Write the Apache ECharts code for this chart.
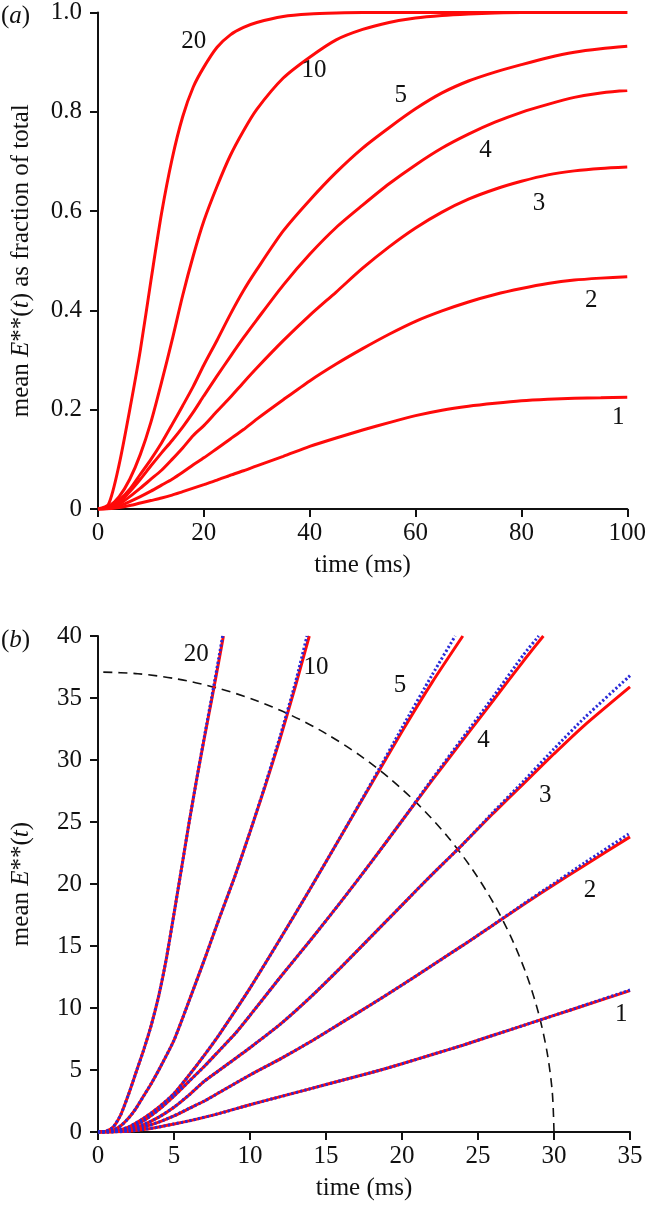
<!DOCTYPE html>
<html><head><meta charset="utf-8">
<script src="https://cdn.jsdelivr.net/npm/echarts@6/dist/echarts.min.js"></script>
<style>html,body{margin:0;padding:0;background:#fff}#c{width:649px;height:1210px}</style>
</head><body><div id="c"></div>
<script>
// ---------- panel (a): mean E**(t) as fraction of total, 0-100 ms ----------
const tTop = [0,2,4,6,8,10,12,14,16,18,20,22.5,25,27.5,30,35,40,45,50,55,60,65,70,75,80,85,90,95,100];
const frac20 = [0,0.01,0.09,0.2,0.32,0.46,0.595,0.705,0.79,0.85,0.89,0.93,0.955,0.97,0.98,0.992,0.997,0.999,1,1,1,1,1,1,1,1,1,1,1];
const frac10 = [0,0.005,0.025,0.06,0.11,0.175,0.255,0.34,0.43,0.51,0.58,0.65,0.712,0.762,0.805,0.868,0.91,0.945,0.966,0.98,0.989,0.994,0.997,0.999,1,1,1,1,1];
const frac5  = [0,0.003,0.018,0.04,0.07,0.1,0.133,0.17,0.208,0.247,0.29,0.34,0.392,0.44,0.482,0.56,0.622,0.678,0.727,0.768,0.806,0.838,0.862,0.88,0.895,0.909,0.92,0.927,0.932];
const frac4  = [0,0.002,0.013,0.035,0.06,0.087,0.113,0.138,0.165,0.195,0.228,0.268,0.307,0.345,0.381,0.451,0.513,0.567,0.612,0.655,0.693,0.727,0.755,0.779,0.799,0.815,0.829,0.838,0.843];
const frac3  = [0,0.002,0.01,0.025,0.042,0.06,0.078,0.1,0.123,0.148,0.168,0.197,0.225,0.255,0.284,0.339,0.39,0.437,0.485,0.528,0.566,0.598,0.624,0.644,0.66,0.673,0.681,0.686,0.689];
const frac2  = [0,0.001,0.006,0.015,0.025,0.036,0.048,0.06,0.074,0.089,0.103,0.122,0.141,0.16,0.181,0.22,0.258,0.292,0.323,0.352,0.378,0.399,0.417,0.432,0.444,0.454,0.461,0.465,0.468];
const frac1  = [0,0.0005,0.003,0.007,0.012,0.017,0.022,0.028,0.035,0.042,0.049,0.058,0.068,0.077,0.087,0.106,0.126,0.143,0.159,0.174,0.188,0.199,0.207,0.213,0.218,0.221,0.223,0.224,0.225];
const topCurveNames = ['20','10','5','4','3','2','1'];
const topLabels = [[18.2,0.94,'20'],[40.9,0.883,'10'],[57.3,0.831,'5'],[73.3,0.722,'4'],[83.4,0.614,'3'],[93.3,0.42,'2'],[98.4,0.1825,'1']];

// ---------- panel (b): mean E**(t), 0-35 ms (red = simulation, blue dotted = theory) ----------
const sim20 = [[0,0],[0.5,0.05],[1,0.4],[1.5,1.4],[2,3.0],[2.5,4.8],[3,6.6],[3.5,8.6],[4,11.0],[4.5,14.0],[5,17.6],[5.5,21.3],[6,25.0],[6.5,28.5],[7,31.8],[7.5,35.0],[8,38.3],[8.25,40]];
const theory20 = [[0,0],[0.5,0.05],[1,0.4],[1.5,1.4],[2,3.0],[2.5,4.8],[3,6.6],[3.5,8.6],[4,11.0],[4.5,14.0],[5,17.6],[5.5,21.3],[6,25.0],[6.5,28.5],[7,31.9],[7.5,35.2],[8,38.6],[8.2,40]];
const sim10 = [[0,0],[0.5,0.02],[1,0.15],[1.5,0.5],[2,1.1],[2.5,1.9],[3,2.9],[3.5,3.9],[4,5.0],[5,7.4],[6,10.6],[7,13.9],[8,17.3],[9,20.6],[10,24.2],[11,27.9],[12,31.8],[13,36.0],[13.9,40]];
const theory10 = [[0,0],[0.5,0.02],[1,0.15],[1.5,0.5],[2,1.1],[2.5,1.9],[3,2.9],[3.5,3.9],[4,5.0],[5,7.4],[6,10.6],[7,13.9],[8,17.3],[9,20.6],[10,24.2],[11,28.0],[12,32.0],[13,36.3],[13.75,40]];
const sim5 = [[0,0],[1,0.05],[2,0.4],[3,1.1],[4,2.0],[5,3.1],[6,4.6],[7,6.2],[8,7.9],[10,11.6],[12,15.6],[14,19.7],[16,23.9],[18,28.1],[20,32.3],[22,36.3],[24,40]];
const theory5 = [[0,0],[1,0.05],[2,0.4],[3,1.1],[4,2.0],[5,3.1],[6,4.6],[7,6.2],[8,7.9],[10,11.6],[12,15.6],[14,19.7],[16,23.9],[18,28.2],[20,32.6],[22,36.9],[23.5,40]];
const sim4 = [[0,0],[1,0.03],[2,0.3],[3,0.9],[4,1.8],[5,2.9],[6,4.1],[7,5.3],[8,6.6],[9,7.9],[10,9.4],[12,12.5],[14,15.5],[16,18.6],[18,21.8],[20,25.1],[22,28.4],[24,31.6],[26,34.8],[28,38.0],[29.3,40]];
const theory4 = [[0,0],[1,0.03],[2,0.3],[3,0.9],[4,1.8],[5,2.9],[6,4.1],[7,5.3],[8,6.6],[9,7.9],[10,9.4],[12,12.5],[14,15.5],[16,18.6],[18,21.8],[20,25.1],[22,28.5],[24,31.8],[26,35.1],[28,38.5],[29,40]];
const sim3 = [[0,0],[1,0.02],[2,0.2],[3,0.6],[4,1.2],[5,2.0],[6,3.0],[7,4.1],[8,5.0],[10,6.8],[12,8.7],[14,10.9],[16,13.3],[18,15.8],[20,18.3],[22,20.8],[24,23.2],[26,25.7],[28,28.1],[30,30.5],[32,32.8],[35,35.9]];
const theory3 = [[0,0],[1,0.02],[2,0.2],[3,0.6],[4,1.2],[5,2.0],[6,3.0],[7,4.1],[8,5.0],[10,6.8],[12,8.7],[14,10.9],[16,13.3],[18,15.8],[20,18.3],[22,20.8],[24,23.2],[26,25.8],[28,28.3],[30,30.9],[32,33.4],[35,36.8]];
const sim2 = [[0,0],[1,0.01],[2,0.12],[3,0.4],[4,0.8],[5,1.3],[6,1.9],[7,2.5],[8,3.2],[10,4.6],[12,5.9],[14,7.3],[16,8.8],[18,10.3],[20,11.85],[22,13.45],[24,15.05],[26,16.7],[28,18.35],[30,19.95],[32,21.5],[35,23.8]];
const theory2 = [[0,0],[1,0.01],[2,0.12],[3,0.4],[4,0.8],[5,1.3],[6,1.9],[7,2.5],[8,3.2],[10,4.6],[12,5.9],[14,7.3],[16,8.8],[18,10.3],[20,11.85],[22,13.45],[24,15.05],[26,16.7],[28,18.4],[30,20.05],[32,21.7],[35,24.1]];
const sim1 = [[0,0],[1,0.01],[2,0.06],[3,0.2],[4,0.4],[5,0.65],[6,0.9],[8,1.5],[10,2.2],[12,2.85],[14,3.5],[16,4.15],[18,4.8],[20,5.5],[22,6.25],[24,7.0],[26,7.8],[28,8.6],[30,9.4],[32,10.2],[35,11.4]];
const theory1 = [[0,0],[1,0.01],[2,0.06],[3,0.2],[4,0.4],[5,0.65],[6,0.9],[8,1.5],[10,2.2],[12,2.85],[14,3.5],[16,4.15],[18,4.8],[20,5.5],[22,6.25],[24,7.0],[26,7.8],[28,8.6],[30,9.4],[32,10.22],[35,11.45]];
// dashed quarter-ellipse guide
const arcT = [30,29.886,29.544,28.978,28.191,27.189,25.981,24.575,22.981,21.213,19.284,17.207,15.0,12.679,10.261,7.765,5.209,2.615,0];
const arcE = [0,3.234,6.442,9.602,12.689,15.679,18.55,21.28,23.848,26.234,28.42,30.391,32.13,33.624,34.863,35.836,36.536,36.959,37.1];
const bottomLabels = [[6.49,38.5,'20'],[14.37,37.4,'10'],[19.9,36.0,'5'],[25.4,31.5,'4'],[29.45,27.1,'3'],[32.4,19.45,'2'],[34.45,9.46,'1']];

// ---------- styles ----------
const FONT = 'Liberation Serif';
const FS = 25;
const INK = '#111';
const RED = '#ff0a0a';
const BLUE = '#2a2ad8';
const rich = { i: { fontFamily: FONT, fontSize: FS, fontStyle: 'italic', color: INK } };
function axisCommon(extra) {
  return Object.assign({
    type: 'value',
    axisLine: { show: true, onZero: false, lineStyle: { color: INK, width: 2 } },
    axisTick: { show: true, inside: false, length: 8, lineStyle: { color: INK, width: 2 } },
    axisLabel: { fontFamily: FONT, fontSize: FS, color: INK },
    splitLine: { show: false },
    nameLocation: 'middle',
    nameTextStyle: { fontFamily: FONT, fontSize: FS, color: INK, rich: rich }
  }, extra);
}
const fracSeries = [frac20, frac10, frac5, frac4, frac3, frac2, frac1];
const simSeries = [sim20, sim10, sim5, sim4, sim3, sim2, sim1];
const theorySeries = [theory20, theory10, theory5, theory4, theory3, theory2, theory1];

const series = [];
fracSeries.forEach((vals, k) => {
  series.push({
    type: 'line', name: 'a-' + topCurveNames[k], xAxisIndex: 0, yAxisIndex: 0,
    data: tTop.map((t, i) => [t, vals[i]]),
    showSymbol: false, smooth: 0.25,
    lineStyle: { color: RED, width: 3 }, z: 2
  });
});
series.push({
  type: 'line', name: 'arc', xAxisIndex: 1, yAxisIndex: 1,
  data: arcT.map((t, i) => [t, arcE[i]]),
  showSymbol: false, smooth: 0.3,
  lineStyle: { color: INK, width: 1.6, type: [9, 6] }, z: 1
});
simSeries.forEach((d, k) => {
  series.push({
    type: 'line', name: 'b-sim-' + topCurveNames[k], xAxisIndex: 1, yAxisIndex: 1,
    data: d, showSymbol: false, smooth: 0.2,
    lineStyle: { color: RED, width: 3 }, z: 2
  });
});
theorySeries.forEach((d, k) => {
  series.push({
    type: 'line', name: 'b-th-' + topCurveNames[k], xAxisIndex: 1, yAxisIndex: 1,
    data: d, showSymbol: false, smooth: 0.2,
    lineStyle: { color: BLUE, width: 3, type: [2.2, 2.2], cap: 'butt' }, z: 3
  });
});
function labelSeries(list, xi) {
  return {
    type: 'scatter', xAxisIndex: xi, yAxisIndex: xi, silent: true,
    symbolSize: 1, itemStyle: { color: 'rgba(0,0,0,0)' },
    data: list.map(p => ({ value: [p[0], p[1]], name: p[2] })),
    label: { show: true, position: [0, 0], align: 'center', verticalAlign: 'middle',
      formatter: p => p.name, fontFamily: FONT, fontSize: FS, color: INK,
      textBorderWidth: 0, opacity: 1 },
    z: 5
  };
}
series.push(labelSeries(topLabels, 0));
series.push(labelSeries(bottomLabels, 1));

const option = {
  animation: false,
  backgroundColor: '#fff',
  grid: [
    { left: 98, top: 12, width: 532, height: 497 },
    { left: 98, top: 636, width: 532, height: 496 }
  ],
  xAxis: [
    axisCommon({ gridIndex: 0, min: 0, max: 100, interval: 20, name: 'time (ms)', nameGap: 44,
      axisLabel: { fontFamily: FONT, fontSize: FS, color: INK, margin: 12 } }),
    axisCommon({ gridIndex: 1, min: 0, max: 35, interval: 5, name: 'time (ms)', nameGap: 44,
      axisLabel: { fontFamily: FONT, fontSize: FS, color: INK, margin: 12 } })
  ],
  yAxis: [
    axisCommon({ gridIndex: 0, min: 0, max: 1, interval: 0.2, nameGap: 64,
      name: 'mean {i|E}**({i|t}) as fraction of total',
      axisLabel: { fontFamily: FONT, fontSize: FS, color: INK, margin: 16,
        formatter: v => v === 0 ? '0' : v.toFixed(1) } }),
    axisCommon({ gridIndex: 1, min: 0, max: 40, interval: 5, nameGap: 64,
      name: 'mean {i|E}**({i|t})',
      axisLabel: { fontFamily: FONT, fontSize: FS, color: INK, margin: 16 } })
  ],
  graphic: [
    { type: 'text', left: 1, top: 4, style: { text: '({i|a})', rich: rich, fontFamily: FONT, fontSize: FS, fill: INK } },
    { type: 'text', left: 1, top: 628, style: { text: '({i|b})', rich: rich, fontFamily: FONT, fontSize: FS, fill: INK } }
  ],
  series: series
};
const chart = echarts.init(document.getElementById('c'));
chart.setOption(option);
</script>
</body></html>
